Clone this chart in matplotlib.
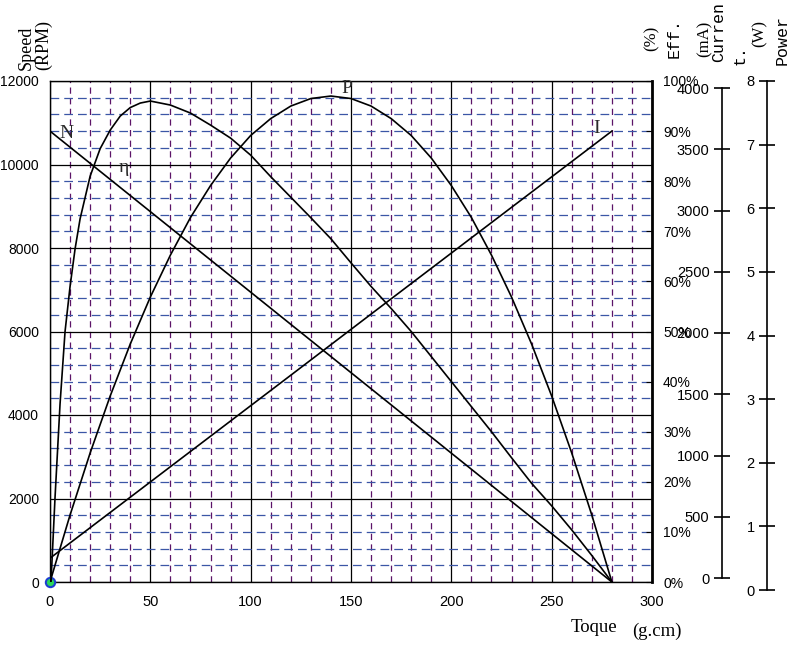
import numpy as np
import matplotlib.pyplot as plt
from matplotlib.ticker import MultipleLocator, FixedLocator

plt.rcParams['font.family'] = ['Liberation Sans', 'DejaVu Sans']

# 数据
torque_n = [0, 40, 80, 120, 160, 200, 240, 280]
speed_rpm = [10800, 9257, 7714, 6171, 4629, 3086, 1543, 0]

torque_i = [0, 40, 80, 120, 160, 200, 240, 280]
current_ma = [190, 677, 1164, 1651, 2139, 2626, 3113, 3600]

torque_p = [0, 10, 20, 30, 40, 50, 60, 70, 80, 90, 100, 110, 120, 130, 140,
            150, 160, 170, 180, 190, 200, 210, 220, 230, 240, 250, 260, 270, 280]
power_w = [0, 1.07, 2.06, 2.97, 3.80, 4.55, 5.22, 5.82, 6.33, 6.77, 7.13, 7.40,
           7.60, 7.72, 7.76, 7.72, 7.60, 7.40, 7.13, 6.77, 6.33, 5.82, 5.22,
           4.55, 3.80, 2.97, 2.06, 1.07, 0]

torque_e = [0.5, 2.5, 5, 7.5, 10, 12.5, 15, 20, 25, 30, 35, 40, 45, 50, 60, 70,
            80, 90, 100, 110, 120, 130, 140, 150, 160, 170, 180, 190, 200, 210,
            220, 230, 240, 250, 260, 270, 280]
eff_pct = [0, 16.8, 35.5, 50, 59, 66.5, 72.5, 81, 86.5, 90.2, 93, 94.7, 95.6,
           96.0, 95.2, 93.6, 91.2, 88.6, 85.2, 80.9, 76.8, 72.7, 68.5, 63.7,
           59.0, 54.6, 50.0, 45.0, 40.0, 35.0, 30.0, 24.8, 19.7, 15.2, 10.4,
           5.3, 0]

x_ticks = [0, 50, 100, 150, 200, 250, 300]
y_ticks = [0, 2000, 4000, 6000, 8000, 10000, 12000]
eff_ticks = [0, 10, 20, 30, 40, 50, 60, 70, 80, 90, 100]
cur_ticks = [0, 500, 1000, 1500, 2000, 2500, 3000, 3500, 4000]
pow_ticks = [0, 1, 2, 3, 4, 5, 6, 7, 8]

W, H = 802, 648
fig = plt.figure(figsize=(W / 100, H / 100), dpi=100)

def box(x0, y_top, x1, y_bot):
    return [x0 / W, 1 - y_bot / H, (x1 - x0) / W, (y_bot - y_top) / H]

ax = fig.add_axes(box(50, 81, 652, 582))
ax.set_xlim(0, 300)
ax.set_ylim(0, 12000)
ax.set_xticks(x_ticks)
ax.set_yticks(y_ticks)
ax.xaxis.set_minor_locator(MultipleLocator(10))
ax.yaxis.set_minor_locator(MultipleLocator(400))
ax.tick_params(which='both', length=0, labelsize=10)
ax.tick_params(axis='x', pad=9, labelsize=10.5)
ax.tick_params(axis='y', pad=8)
ax.grid(True, which='major', color='black', lw=0.9)
ax.grid(True, which='minor', axis='x', color='#5c1468', lw=0.9, ls=(0, (5, 3.5)))
ax.grid(True, which='minor', axis='y', color='#3b56a6', lw=0.9, ls=(0, (7, 4)))
ax.set_axisbelow(True)
for s in ax.spines.values():
    s.set_linewidth(1.0)
ax.spines['right'].set_linewidth(2.0)

ax.plot(torque_n, speed_rpm, color='black', lw=1.2)
ax.scatter([0], [0], s=45, color='#2bd65a', edgecolors='#1d3fd0', linewidths=1.5,
           zorder=10, clip_on=False)

# 效率轴
ax_e = ax.twinx()
ax_e.set_ylim(0, 100)
ax_e.yaxis.set_major_locator(FixedLocator(eff_ticks))
ax_e.set_yticklabels([f'{v}%' for v in eff_ticks])
ax_e.tick_params(axis='y', direction='in', length=4, pad=8, labelsize=10)
for s in ax_e.spines.values():
    s.set_visible(False)
ax_e.plot(torque_e, eff_pct, color='black', lw=1.2)

# 电流、功率曲线
ax_i = ax.twinx()
ax_i.set_ylim(0, 4000)
ax_i.axis('off')
ax_i.plot(torque_i, current_ma, color='black', lw=1.2)

ax_p = ax.twinx()
ax_p.set_ylim(0, 8)
ax_p.axis('off')
ax_p.plot(torque_p, power_w, color='black', lw=1.2)

# 右侧的两根刻度轴
def side_axis(x, y_top, y_bot, lim, ticks):
    a = fig.add_axes(box(x, y_top, x + 5, y_bot))
    a.set_ylim(*lim)
    a.set_yticks(ticks)
    a.set_xticks([])
    a.patch.set_visible(False)
    for k in ['top', 'right', 'bottom']:
        a.spines[k].set_visible(False)
    a.spines['left'].set_linewidth(1.2)
    a.tick_params(axis='y', direction='inout', length=12, width=1.2, pad=3,
                  labelsize=10.5)
    return a

side_axis(722, 88, 578, (0, 4000), cur_ticks)
side_axis(767, 81, 590, (0, 8), pow_ticks)

# 曲线标签
serif = 'Liberation Serif'
mono = 'Liberation Mono'
lab_col = '#2a2a2a'
ax.text(8, 10750, 'N', family=serif, fontsize=14, color=lab_col, ha='center', va='center')
ax.text(37, 9920, 'η', family=serif, fontsize=14, color=lab_col, ha='center', va='center')
ax.text(148, 11810, 'P', family=serif, fontsize=14, color=lab_col, ha='center', va='center')
ax.text(272.5, 10870, 'I', family=serif, fontsize=14, color=lab_col, ha='center', va='center')

# 坐标轴标题
def ftext(x, y, s, fam, size, **kw):
    fig.text(x / W, 1 - y / H, s, family=fam, fontsize=size, **kw)

ftext(26, 70, 'Speed', serif, 13, rotation=90, ha='center', va='bottom')
ftext(44, 70, '(RPM)', serif, 13, rotation=90, ha='center', va='bottom')
ftext(652, 51, '(%)', serif, 12, rotation=90, ha='center', va='bottom')
ftext(674, 58, 'Eff.', mono, 12, rotation=90, ha='center', va='bottom')
ftext(705, 57, '(mA)', serif, 12, rotation=90, ha='center', va='bottom')
ftext(719, 62, 'Curren', mono, 12, rotation=90, ha='center', va='bottom')
ftext(740, 65, 't.', mono, 12, rotation=90, ha='center', va='bottom')
ftext(760, 47, '(W)', serif, 12, rotation=90, ha='center', va='bottom')
ftext(782, 65, 'Power', mono, 12, rotation=90, ha='center', va='bottom')
ftext(571, 628, 'Toque', serif, 13.5, ha='left', va='center')
ftext(632, 631, '(g.cm)', serif, 13.5, ha='left', va='center')

fig.savefig('out.png', dpi=100)
